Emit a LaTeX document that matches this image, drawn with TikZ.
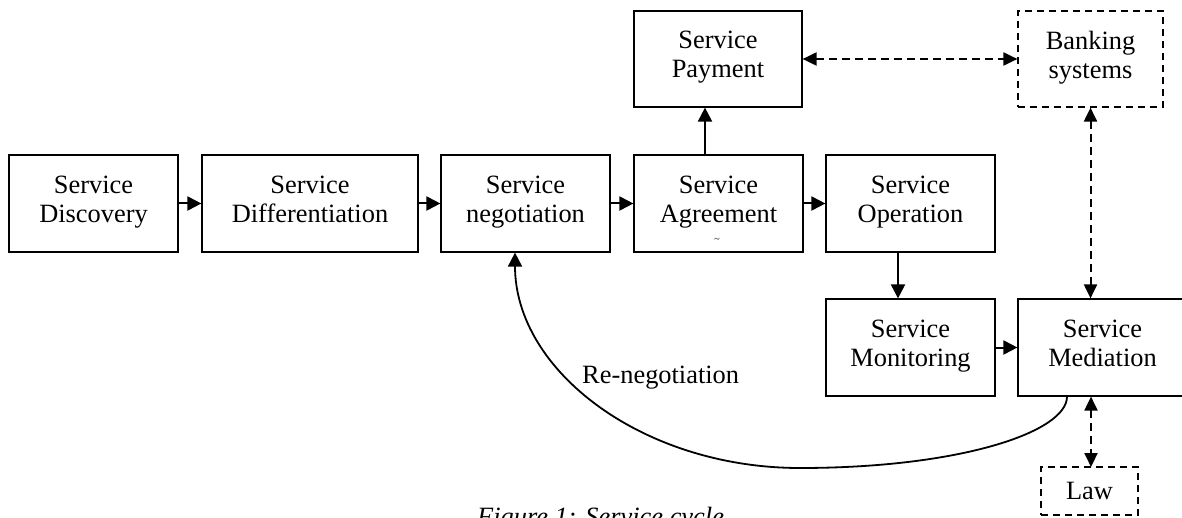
\documentclass[tikz,border=0pt]{standalone}
\usepackage{fontspec}
\setmainfont{Liberation Serif}
\usetikzlibrary{arrows.meta}
\begin{document}
\begin{tikzpicture}[x=1pt,y=-1pt,
  box/.style={draw,line width=1.2pt,inner sep=0pt,minimum width=169pt,minimum height=97pt,
    align=center,font=\fontsize{26.4}{29}\selectfont},
  dbox/.style={box,dash pattern=on 7pt off 5pt},
  arr/.style={line width=2pt,-{Triangle[length=14pt,width=14pt]}},
  darr/.style={line width=2pt,dash pattern=on 8pt off 5pt,
    {Triangle[length=14pt,width=13pt]}-{Triangle[length=14pt,width=13pt]}},
  lbl/.style={font=\fontsize{26.4}{29}\selectfont,inner sep=0pt}]
\useasboundingbox (0,0) rectangle (1182,518);
\clip (0,0) rectangle (1182,518);
\node[box] (disc) at (93.5,203.5) {Service\\Discovery\strut};
\node[box,minimum width=216pt] (diff) at (310,203.5) {Service\\Differentiation\strut};
\node[box] (nego) at (525.5,203.5) {Service\\negotiation\strut};
\node[box] (agree) at (718.5,203.5) {Service\\Agreement\strut};
\node[box] (oper) at (910.5,203.5) {Service\\Operation\strut};
\node[box,minimum width=168pt,minimum height=96pt] (pay) at (718,59) {Service\\Payment\strut};
\node[dbox,minimum width=145pt,minimum height=96pt] (bank) at (1090.5,59) {Banking\\systems\strut};
\node[box] (moni) at (910.5,347.5) {Service\\Monitoring\strut};
\node[box] (med) at (1102.5,347.5) {Service\\Mediation\strut};
\node[dbox,minimum width=97pt,minimum height=48pt] (law) at (1089.5,491) {Law};
\node[lbl,font=\fontsize{10}{10}\selectfont] (tmark) at (717,240) {\textasciitilde};
\node[lbl,anchor=base west] (reneg) at (582,383) {Re-negotiation};
\node[lbl,anchor=base west,font=\fontsize{26.4}{29}\selectfont\itshape] (cap) at (477,525) {Figure 1: Service cycle};
\coordinate (lawtop) at (1091,467);
\coordinate (c1) at (800,468);
\draw[arr] (disc) -- (diff);
\draw[arr] (diff) -- (nego);
\draw[arr] (nego) -- (agree);
\draw[arr] (agree) -- (oper);
\draw[arr] ([xshift=-13.5pt]agree.north) -- ([xshift=-13pt]pay.south);
\draw[arr] ([xshift=-12.5pt]oper.south) -- ([xshift=-12.5pt]moni.north);
\draw[arr] (moni) -- (med);
\draw[darr] (pay) -- (bank);
\draw[darr] (bank.south) -- (bank.south |- med.north);
\draw[darr] (lawtop |- med.south) -- (lawtop);
\draw[line width=1.8pt,-{Triangle[length=14pt,width=14pt]}] ([xshift=-35.5pt]med.south)
  .. controls (1067,432) and (960,468) .. (c1)
  .. controls (643,468) and (515,371) .. ([xshift=-10.5pt]nego.south);
\end{tikzpicture}
\end{document}
